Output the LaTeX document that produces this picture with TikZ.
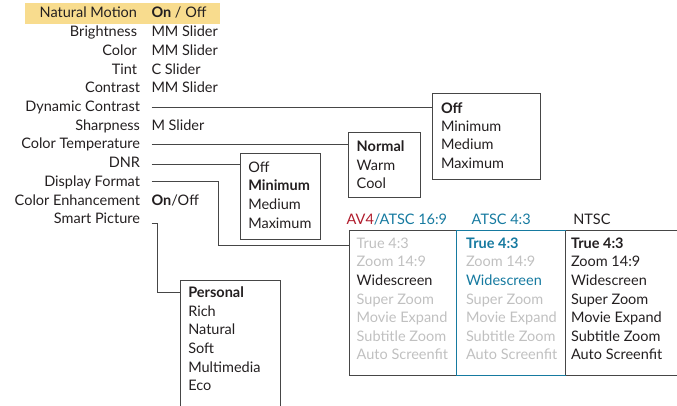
\documentclass[tikz,border=0pt]{standalone}
\usepackage{fontspec}
\setmainfont{Lato}
\definecolor{hl}{RGB}{248,220,142}
\definecolor{tealc}{RGB}{22,122,160}
\definecolor{redc}{RGB}{176,28,44}
\definecolor{greyt}{RGB}{192,192,192}
\definecolor{ink}{RGB}{35,31,32}
\definecolor{linec}{RGB}{70,70,70}
\begin{document}
\begin{tikzpicture}[x=1pt,y=-1pt,
  every node/.style={inner sep=0pt, outer sep=0pt, font=\fontsize{14.5}{18}\selectfont, text=ink},
  lbl/.style={anchor=base east},
  val/.style={anchor=base west},
  frame/.style={draw=linec, line width=1pt},
  conn/.style={draw=linec, line width=1pt},
  gr/.style={anchor=base west, text=greyt},
  tl/.style={anchor=base west, text=tealc},
  bk/.style={anchor=base west}]
\useasboundingbox (0,0) rectangle (677,406);
\fill[hl] (25,3.3) rectangle (220,24);
% left labels
\node[lbl] (l1) at (137,18) {Natural Motion};
\node[val] (v1) at (151.5,18) {\textbf{On} / Off};
\node[lbl] (l2) at (137,36.7) {Brightness};
\node[val] (v2) at (151.5,36.7) {MM Slider};
\node[lbl] (l3) at (137,55.4) {Color};
\node[val] (v3) at (151.5,55.4) {MM Slider};
\node[lbl] (l4) at (137,74.1) {Tint};
\node[val] (v4) at (151.5,74.1) {C Slider};
\node[lbl] (l5) at (140,92.8) {Contrast};
\node[val] (v5) at (151.5,92.8) {MM Slider};
\node[lbl] (l6) at (140,111.5) {Dynamic Contrast};
\node[lbl] (l7) at (140,130.2) {Sharpness};
\node[val] (v7) at (151.5,130.2) {M Slider};
\node[lbl] (l8) at (140,148.9) {Color Temperature};
\node[lbl] (l9) at (140,167.6) {DNR};
\node[lbl] (l10) at (140,186.3) {Display Format};
\node[lbl] (l11) at (140,205) {Color Enhancement};
\node[val] (v11) at (151.5,205) {\textbf{On}/Off};
\node[lbl] (l12) at (140,223.7) {Smart Picture};
% connector start points
\coordinate (c6) at (151.5,108);
\coordinate (c8) at (151.5,145);
\coordinate (c9) at (151.5,164.5);
\coordinate (c10) at (151.5,181.7);
\coordinate (c12) at (151.5,223.5);
% Dynamic contrast box
\node[frame, anchor=north west, minimum width=108pt, minimum height=86pt] (dcbox) at (432.7,93.3) {};
\node[bk] (dc1) at (441,113.3) {\textbf{Off}};
\node[bk] (dc2) at (441,131.7) {Minimum};
\node[bk] (dc3) at (441,150) {Medium};
\node[bk] (dc4) at (441,168.3) {Maximum};
% Color temperature box
\node[frame, anchor=north west, minimum width=71.7pt, minimum height=65pt] (ctbox) at (348.3,132.3) {};
\node[bk] (ct1) at (356.7,151.7) {\textbf{Normal}};
\node[bk] (ct2) at (356.7,170.3) {Warm};
\node[bk] (ct3) at (356.7,189) {Cool};
% DNR box
\node[frame, anchor=north west, minimum width=79.3pt, minimum height=85.3pt] (dnbox) at (240.7,154) {};
\node[bk] (dn1) at (248.3,172.3) {Off};
\node[bk] (dn2) at (248.3,190.7) {\textbf{Minimum}};
\node[bk] (dn3) at (248.3,210) {Medium};
\node[bk] (dn4) at (248.3,228.3) {Maximum};
% Display format boxes
\node[anchor=base west] (h1) at (346.7,225) {\textcolor{redc}{AV4}\textcolor{tealc}{/ATSC 16:9}};
\node[tl] (h2) at (471.7,225) {ATSC 4:3};
\node[bk] (h3) at (573.3,225) {NTSC};
\node[frame, anchor=north west, minimum width=107.7pt, minimum height=144.3pt] (df1) at (349,230.7) {};
\draw[frame] (565,230.7) -- (680,230.7) (565,375) -- (680,375);
\node[draw=tealc, line width=1pt, anchor=north west, minimum width=108.3pt, minimum height=144.3pt] (df2) at (456.7,230.7) {};
\coordinate (df3) at (565,230.7);
% entries
\node[gr] at (356.7,248.3) {True 4:3};
\node[gr] at (356.7,266.9) {Zoom 14:9};
\node[bk] at (356.7,285.5) {Widescreen};
\node[gr] at (356.7,304.1) {Super Zoom};
\node[gr] at (356.7,322.7) {Movie Expand};
\node[gr] at (356.7,341.3) {Subtitle Zoom};
\node[gr] at (356.7,359.9) {Auto Screenfit};
\node[tl] at (466,248.3) {\textbf{True 4:3}};
\node[gr] at (466,266.9) {Zoom 14:9};
\node[tl] at (466,285.5) {Widescreen};
\node[gr] at (466,304.1) {Super Zoom};
\node[gr] at (466,322.7) {Movie Expand};
\node[gr] at (466,341.3) {Subtitle Zoom};
\node[gr] at (466,359.9) {Auto Screenfit};
\node[bk] at (571,248.3) {\textbf{True 4:3}};
\node[bk] at (571,266.9) {Zoom 14:9};
\node[bk] at (571,285.5) {Widescreen};
\node[bk] at (571,304.1) {Super Zoom};
\node[bk] at (571,322.7) {Movie Expand};
\node[bk] at (571,341.3) {Subtitle Zoom};
\node[bk] at (571,359.9) {Auto Screenfit};
% Smart picture box
\coordinate (spbl) at (180.7,410);
\coordinate (spbr) at (280,410);
\draw[frame] (spbl) |- (280,280.7) -- (spbr);
\node[bk] (sp1) at (188.3,297.3) {\textbf{Personal}};
\node[bk] (sp2) at (188.3,316.3) {Rich};
\node[bk] (sp3) at (188.3,334.9) {Natural};
\node[bk] (sp4) at (188.3,353.5) {Soft};
\node[bk] (sp5) at (188.3,372.1) {Multimedia};
\node[bk] (sp6) at (188.3,390.7) {Eco};
% connectors
\draw[conn] (c6) -- (c6 -| dcbox.west);
\draw[conn] (c8) -- (c8 -| ctbox.west);
\draw[conn] (c9) -- (c9 -| dnbox.west);
\draw[conn] (c10) -- (218.3,181.7) -- (218.3,245) -- (df1.west |- 0,245);
\draw[conn] (c12) -- (157.3,223.5) -- (157.3,292.3) -- (spbl |- 0,292.3);
\draw[draw=tealc, line width=1pt] (df2.north west) rectangle (df2.south east);
\draw[frame] (df3) -- (df3 |- df2.south);
\end{tikzpicture}
\end{document}
